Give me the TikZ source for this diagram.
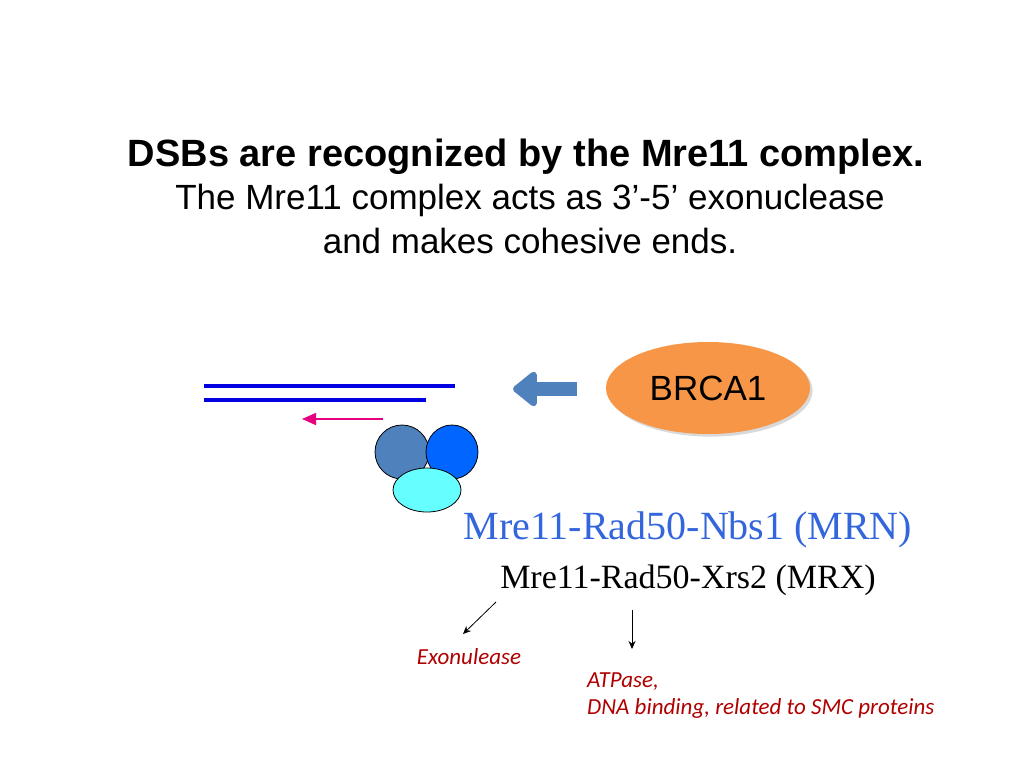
\documentclass[tikz,border=0pt]{standalone}
\usepackage{fontspec}
\setmainfont{Liberation Sans}
\newfontfamily\serifx{Liberation Serif}
\newfontfamily\calib{Carlito}
\usetikzlibrary{arrows.meta,shadows,shapes.geometric}
\definecolor{dna}{HTML}{0000E0}
\definecolor{steel}{HTML}{4F81BD}
\definecolor{orng}{HTML}{F79646}
\definecolor{mrn}{HTML}{3366DD}
\definecolor{dred}{HTML}{B00000}
\definecolor{pink}{HTML}{E6007E}
\tikzset{sub/.style={draw=black,line width=0.8pt},
 lbl/.style={font=\calib\itshape\fontsize{23}{26}\selectfont,text=dred,inner sep=0pt}}
\begin{document}
\begin{tikzpicture}[x=1pt,y=-1pt]
\useasboundingbox (0,0) rectangle (1024,768);
\node (t1) at (526,157) {\bfseries\fontsize{38}{44}\selectfont DSBs are recognized by the Mre11 complex.};
\node (t2) at (530,200) {\fontsize{35}{40}\selectfont The Mre11 complex acts as 3’-5’ exonuclease};
\node (t3) at (530,241) {\fontsize{35}{40}\selectfont and makes cohesive ends.};
\draw[dna,line width=4pt] (204,386) -- (455,386);
\draw[dna,line width=4pt] (204,400) -- (426,400);
\coordinate (pa) at (383,419); \coordinate (pb) at (302,419);
\draw[pink,line width=1.5pt,-{Triangle[length=14pt,width=12pt]}] (pa) -- (pb);
\node (brca) at (708,388) [ellipse,minimum width=204,minimum height=92,fill=orng,drop shadow={opacity=0.3},font=\fontsize{35}{40}\selectfont] {BRCA1};
\coordinate (ba) at (577,389); \coordinate (bb) at (513,389);
\draw[steel,line width=14pt,-{Triangle[length=26pt,width=40pt,round]}] (ba) -- (bb);
\node[ellipse,sub,fill=steel,minimum width=54,minimum height=54] (m1) at (402,452) {};
\node[ellipse,sub,fill={rgb,255:red,0;green,102;blue,255},minimum width=52,minimum height=54] (m2) at (452,452) {};
\node[ellipse,sub,fill={rgb,255:red,102;green,255;blue,255},minimum width=68,minimum height=44] (m3) at (427,490) {};
\node (mrn) at (688,530) {\serifx\fontsize{40}{46}\selectfont\color{mrn}Mre11-Rad50-Nbs1 (MRN)};
\node (mrx) at (688,580) {\serifx\fontsize{34}{40}\selectfont Mre11-Rad50-Xrs2 (MRX)};
\coordinate (a1) at (496,602); \coordinate (a1e) at (463,634);
\coordinate (a2) at (632,610); \coordinate (a2e) at (632,649);
\draw[-{Stealth[length=8pt,width=7pt]},line width=0.8pt] (a1) -- (a1e);
\draw[-{Stealth[length=8pt,width=7pt]},line width=0.8pt] (a2) -- (a2e);
\node[lbl] (exo) at (469,657) {Exonulease};
\node[lbl,anchor=west] (atp) at (587,682) {ATPase,};
\node[lbl,anchor=west] (dnab) at (587,708) {DNA binding, related to SMC proteins};
\end{tikzpicture}
\end{document}
